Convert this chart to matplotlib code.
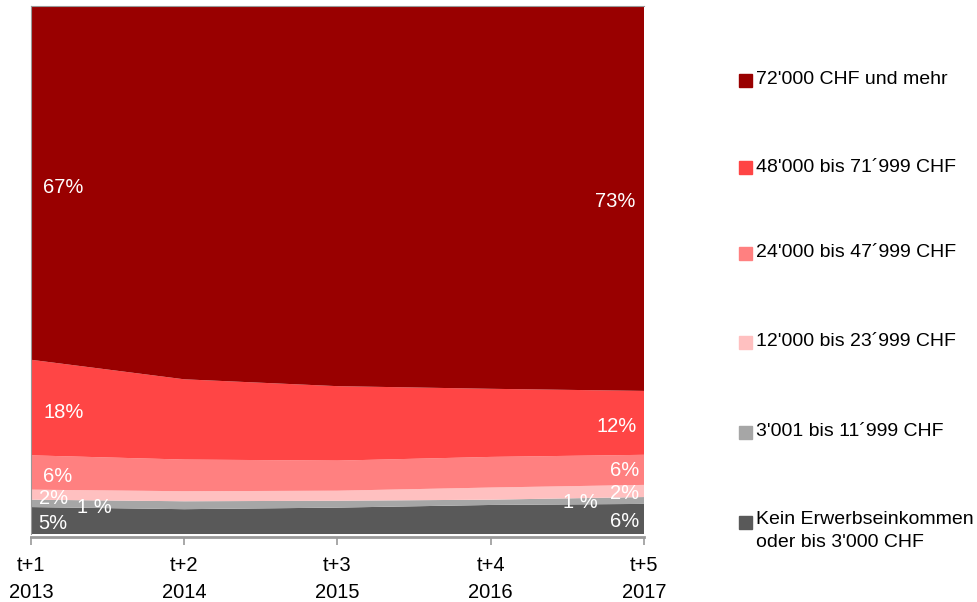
import matplotlib
matplotlib.use("Agg")
import matplotlib.pyplot as plt
from matplotlib.patches import Rectangle

plt.rcParams['font.family'] = ['Liberation Sans', 'DejaVu Sans']

periods = ["t+1\n2013", "t+2\n2014", "t+3\n2015", "t+4\n2016", "t+5\n2017"]
labels = ["Kein Erwerbseinkommen\noder bis 3'000 CHF",
          "3'001 bis 11\u00b4999 CHF",
          "12'000 bis 23\u00b4999 CHF",
          "24'000 bis 47\u00b4999 CHF",
          "48'000 bis 71\u00b4999 CHF",
          "72'000 CHF und mehr"]
colors = ["#595959", "#A6A6A6", "#FFC0C0", "#FF8080", "#FF4545", "#990000"]

kein   = [5.1, 4.7, 5.0, 5.5, 5.7]
s3001  = [1.4, 1.5, 1.3, 1.0, 1.3]
s12000 = [1.9, 1.9, 1.9, 2.3, 2.3]
s24000 = [6.5, 6.0, 5.7, 5.8, 5.7]
s48000 = [18.1, 15.2, 14.1, 12.9, 12.1]
s72000 = [67.0, 70.7, 72.0, 72.5, 72.9]
series = [kein, s3001, s12000, s24000, s48000, s72000]

start_labels = ["5%", "1 %", "2%", "6%", "18%", "67%"]
end_labels = ["6%", "1 %", "2%", "6%", "12%", "73%"]

fig = plt.figure(figsize=(9.78, 6.02), dpi=100)
W, H = 978, 602
ax = fig.add_axes([31 / W, (H - 534) / H, (644 - 31) / W, 528 / H])
x = list(range(len(periods)))
ax.stackplot(x, *series, colors=colors, linewidth=0)
ax.spines['right'].set_visible(False)
ax.spines['top'].set_color('#999999')
ax.spines['left'].set_color('#999999')
ax.spines['bottom'].set_color('#999999')
ax.spines['bottom'].set_linewidth(2)
ax.spines['bottom'].set_position(('outward', 2))
ax.set_xlim(0, len(periods) - 1)
ax.set_ylim(0, 100)
ax.set_yticks([])
ax.set_xticks(x)
ax.set_xticklabels(periods, fontsize=14.5, linespacing=1.55)
ax.tick_params(axis='x', length=6, width=1.2, color='#999999', pad=8)


def mids(idx):
    out = []
    base = 0
    for s in series:
        out.append(base + s[idx] / 2)
        base += s[idx]
    return out


m0 = mids(0)
m4 = mids(4)
tp = dict(color='white', fontsize=14.5, va='center')
offs0 = [(0.05, -0.5), (0.3, -0.7), (0.05, -0.7), (0.08, -0.75), (0.08, -0.95), (0.08, 0.0)]
for i, t in enumerate(start_labels):
    dx, dy = offs0[i]
    yy = m0[i] + dy
    if i == 5:
        yy = 65.7
    ax.text(0 + dx, yy, t, ha='left', **tp)
offs4 = [(-0.03, -0.5), (-0.3, -0.3), (-0.03, -0.45), (-0.03, -0.1), (-0.05, -0.6), (-0.055, 0.0)]
for i, t in enumerate(end_labels):
    dx, dy = offs4[i]
    yy = m4[i] + dy
    if i == 5:
        yy = 62.9
    ax.text(4 + dx, yy, t, ha='right', **tp)

leg_y = [80, 167, 253, 342, 432, 522]
order = list(range(len(labels)))[::-1]
for yy, i in zip(leg_y, order):
    fig.patches.append(Rectangle((739 / W, 1 - (yy + 6.5) / H), 13 / W, 13 / H,
                                 transform=fig.transFigure, color=colors[i]))
    if '\n' in labels[i]:
        fig.text(756 / W, 1 - (yy - 11) / H, labels[i], fontsize=14, va='top', ha='left',
                 linespacing=1.45)
    else:
        fig.text(756 / W, 1 - yy / H, labels[i], fontsize=14, va='center', ha='left')

fig.savefig("out.png", dpi=100)
